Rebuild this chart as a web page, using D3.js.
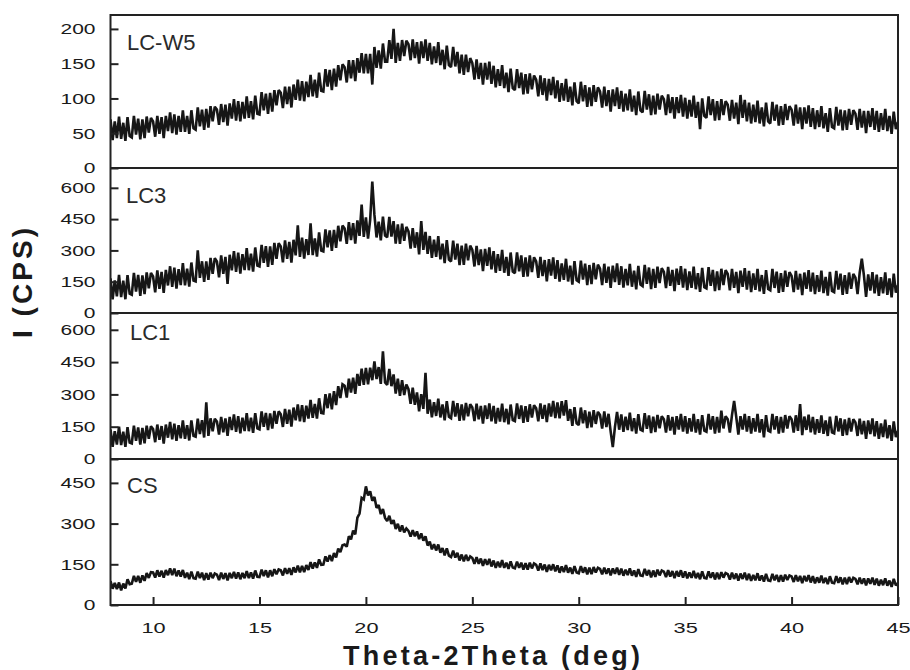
<!DOCTYPE html>
<html lang="en">
<head>
  <meta charset="UTF-8">
  <title>XRD patterns</title>
  <script src="https://d3js.org/d3.v7.min.js"></script>
  <style>
    body { margin: 0; background: #fff; font-family: "Liberation Sans", Arial, sans-serif; }
    svg { display: block; }
    .tick text { fill: #1a1a1a; font-size: 15px; }
    .tick line { stroke: #222; stroke-width: 2px; }
    .trace { fill: none; stroke: #161616; stroke-width: 2.6px; stroke-linejoin: miter; stroke-miterlimit: 2; }
  </style>
</head>
<body>
  <svg width="910" height="670"></svg>

  <script>
    // scan grid, 2theta 8..45 deg, 0.1 deg step (one row below = one degree)
    const twoTheta = d3.range(371).map(i => 8 + i * 0.1);

    const sampleNames = ["LC-W5", "LC3", "LC1", "CS"];

    const lcw5 = [
      70, 40, 67, 43, 74, 42, 65, 39, 73, 46,
      44, 75, 48, 71, 41, 70, 43, 74, 51, 72,
      67, 45, 75, 49, 73, 43, 75, 53, 80, 50,
      77, 48, 75, 52, 83, 52, 75, 49, 83, 57,
      55, 87, 60, 84, 55, 85, 58, 89, 67, 88,
      84, 62, 92, 66, 91, 61, 93, 71, 99, 68,
      96, 67, 95, 71, 103, 72, 96, 70, 104, 78,
      77, 109, 83, 107, 78, 108, 81, 112, 90, 112,
      108, 86, 117, 92, 117, 87, 120, 98, 127, 97,
      125, 96, 124, 102, 134, 103, 127, 101, 137, 111,
      110, 142, 117, 141, 112, 143, 117, 148, 126, 149,
      145, 123, 155, 129, 155, 125, 158, 137, 165, 136,
      164, 136, 164, 120, 174, 144, 169, 143, 179, 153,
      153, 184, 157, 200, 151, 180, 154, 184, 161, 183,
      178, 155, 185, 158, 181, 150, 182, 158, 185, 154,
      180, 149, 175, 151, 181, 148, 170, 142, 176, 148,
      145, 174, 146, 167, 136, 163, 134, 163, 138, 158,
      151, 127, 156, 128, 151, 120, 151, 127, 153, 121,
      147, 116, 142, 118, 148, 115, 137, 109, 143, 115,
      112, 142, 115, 137, 106, 135, 107, 136, 113, 133,
      127, 103, 133, 105, 129, 97, 128, 105, 131, 100,
      126, 95, 122, 97, 128, 95, 117, 90, 123, 96,
      93, 124, 96, 119, 88, 116, 89, 119, 95, 116,
      110, 87, 117, 89, 112, 81, 113, 89, 116, 85,
      111, 81, 107, 83, 113, 81, 104, 76, 110, 83,
      80, 111, 84, 106, 76, 104, 77, 107, 84, 104,
      99, 76, 106, 79, 102, 71, 102, 79, 105, 74,
      101, 71, 98, 74, 104, 72, 95, 56, 100, 75,
      72, 103, 76, 99, 68, 96, 69, 99, 76, 96,
      91, 68, 98, 71, 94, 63, 105, 72, 98, 67,
      94, 64, 91, 66, 97, 64, 87, 60, 94, 67,
      64, 95, 68, 91, 61, 89, 62, 92, 69, 89,
      84, 61, 91, 64, 87, 56, 87, 64, 90, 59,
      86, 56, 83, 59, 89, 57, 79, 52, 86, 59,
      57, 88, 61, 84, 54, 83, 55, 85, 62, 83,
      78, 55, 85, 58, 82, 50, 82, 59, 86, 55,
      82, 52, 79, 55, 85, 53, 75, 49, 81, 56,
      66
    ];

    const lc3 = [
      166, 65, 156, 80, 183, 76, 155, 66, 182, 93,
      88, 192, 103, 183, 82, 180, 91, 195, 118, 192,
      175, 99, 204, 116, 197, 97, 207, 132, 224, 125,
      217, 117, 210, 134, 239, 133, 213, 126, 242, 155,
      151, 300, 168, 248, 149, 247, 159, 264, 188, 263,
      247, 171, 276, 188, 269, 140, 279, 204, 296, 197,
      289, 189, 282, 206, 311, 205, 285, 198, 314, 227,
      223, 327, 240, 320, 221, 319, 231, 336, 260, 335,
      319, 243, 348, 260, 341, 241, 351, 276, 420, 269,
      361, 261, 354, 278, 430, 277, 357, 270, 386, 299,
      295, 401, 315, 396, 298, 398, 312, 418, 343, 419,
      405, 331, 436, 350, 431, 333, 444, 370, 520, 365,
      458, 356, 446, 630, 470, 362, 438, 348, 462, 371,
      363, 461, 366, 440, 333, 425, 331, 428, 346, 413,
      391, 309, 407, 313, 387, 281, 440, 303, 389, 283,
      369, 264, 351, 269, 368, 257, 332, 239, 349, 256,
      247, 347, 256, 332, 229, 323, 231, 332, 252, 323,
      303, 223, 322, 230, 305, 201, 307, 226, 314, 209,
      297, 193, 282, 202, 303, 193, 269, 178, 290, 199,
      191, 291, 200, 276, 173, 267, 175, 276, 196, 267,
      247, 168, 269, 177, 254, 151, 258, 179, 267, 164,
      253, 150, 238, 159, 260, 151, 227, 136, 249, 157,
      150, 251, 160, 237, 134, 230, 139, 240, 161, 232,
      213, 134, 236, 145, 222, 120, 227, 148, 238, 135,
      224, 122, 211, 133, 235, 126, 203, 113, 226, 136,
      129, 231, 140, 218, 115, 211, 120, 222, 144, 215,
      197, 119, 221, 130, 207, 105, 213, 135, 225, 122,
      212, 110, 199, 121, 222, 114, 191, 101, 216, 124,
      118, 220, 130, 207, 105, 200, 110, 212, 134, 205,
      187, 109, 211, 121, 197, 95, 203, 125, 215, 112,
      202, 100, 190, 111, 212, 104, 182, 92, 206, 115,
      109, 211, 120, 198, 96, 191, 101, 203, 125, 196,
      178, 100, 202, 112, 188, 86, 194, 116, 205, 103,
      193, 91, 181, 102, 203, 95, 173, 83, 197, 106,
      100, 202, 112, 189, 87, 182, 92, 194, 116, 187,
      169, 91, 193, 260, 179, 77, 185, 107, 196, 94,
      184, 82, 172, 94, 195, 87, 166, 75, 189, 98,
      134
    ];

    const lc1 = [
      137, 57, 129, 67, 150, 65, 127, 56, 148, 76,
      72, 155, 84, 147, 67, 144, 73, 155, 94, 152,
      139, 78, 160, 89, 153, 72, 160, 99, 172, 91,
      164, 84, 157, 96, 179, 94, 157, 86, 179, 108,
      104, 187, 116, 180, 100, 263, 107, 189, 129, 187,
      174, 113, 195, 124, 188, 108, 195, 134, 207, 126,
      199, 119, 192, 130, 213, 129, 192, 121, 213, 142,
      138, 221, 150, 214, 134, 212, 141, 223, 163, 221,
      208, 149, 233, 163, 229, 150, 239, 180, 254, 175,
      250, 172, 248, 188, 274, 191, 256, 188, 282, 214,
      212, 301, 236, 305, 231, 315, 250, 338, 283, 347,
      340, 285, 373, 308, 378, 303, 395, 340, 419, 344,
      423, 347, 424, 366, 453, 371, 427, 349, 500, 355,
      344, 418, 338, 393, 304, 373, 293, 366, 297, 346,
      324, 256, 331, 252, 309, 221, 301, 233, 400, 210,
      276, 194, 264, 200, 280, 193, 253, 180, 269, 196,
      189, 270, 197, 259, 177, 253, 180, 260, 198, 254,
      239, 176, 257, 184, 246, 164, 249, 186, 258, 175,
      246, 165, 237, 174, 257, 171, 233, 161, 253, 181,
      176, 258, 186, 249, 168, 245, 173, 254, 193, 250,
      236, 175, 258, 187, 251, 171, 258, 197, 270, 190,
      263, 189, 269, 202, 273, 177, 232, 154, 241, 166,
      158, 239, 166, 226, 144, 220, 147, 227, 163, 219,
      204, 141, 221, 148, 210, 127, 55, 148, 219, 136,
      207, 126, 197, 134, 215, 129, 190, 118, 208, 136,
      131, 213, 140, 202, 120, 197, 125, 205, 143, 199,
      185, 123, 204, 132, 195, 113, 199, 137, 209, 127,
      199, 118, 190, 127, 209, 123, 185, 113, 204, 132,
      127, 209, 137, 199, 118, 195, 123, 225, 142, 199,
      185, 123, 204, 270, 195, 113, 199, 137, 209, 127,
      199, 118, 190, 127, 209, 123, 185, 100, 204, 132,
      127, 209, 137, 199, 118, 195, 123, 204, 142, 199,
      185, 123, 203, 131, 255, 111, 197, 135, 206, 124,
      195, 114, 185, 122, 203, 117, 179, 107, 197, 124,
      119, 200, 128, 189, 107, 184, 111, 191, 128, 185,
      170, 107, 187, 115, 177, 94, 179, 116, 188, 105,
      176, 94, 165, 102, 183, 96, 157, 84, 175, 102,
      130
    ];

    const cs = [
      88, 60, 81, 59, 83, 54, 79, 61, 95, 77,
      79, 107, 85, 107, 82, 109, 89, 118, 100, 121,
      120, 101, 128, 105, 126, 101, 129, 110, 135, 110,
      134, 106, 127, 105, 129, 100, 119, 95, 123, 99,
      97, 123, 99, 119, 92, 117, 94, 119, 99, 116,
      112, 92, 119, 96, 117, 91, 118, 99, 122, 97,
      120, 95, 118, 99, 125, 99, 120, 97, 127, 104,
      103, 130, 107, 128, 102, 128, 106, 132, 113, 131,
      128, 109, 136, 115, 136, 111, 139, 120, 145, 120,
      144, 121, 147, 129, 158, 134, 157, 137, 168, 148,
      149, 179, 160, 184, 162, 191, 175, 208, 195, 220,
      223, 215, 253, 242, 274, 260, 322, 337, 395, 389,
      437, 404, 419, 384, 398, 358, 368, 335, 354, 321,
      309, 329, 299, 313, 280, 299, 271, 293, 268, 282,
      273, 252, 276, 253, 271, 243, 264, 237, 253, 219,
      234, 205, 224, 201, 223, 193, 210, 183, 209, 182,
      177, 200, 175, 192, 164, 186, 161, 185, 163, 179,
      173, 152, 176, 152, 171, 144, 169, 148, 170, 142,
      164, 137, 160, 139, 165, 137, 156, 133, 161, 138,
      135, 160, 137, 156, 130, 154, 130, 156, 135, 153,
      148, 127, 153, 129, 149, 122, 148, 128, 150, 124,
      146, 119, 142, 121, 147, 119, 138, 115, 143, 120,
      117, 143, 119, 139, 113, 138, 114, 140, 120, 137,
      133, 113, 138, 115, 135, 109, 135, 115, 138, 111,
      134, 108, 130, 110, 135, 108, 127, 104, 132, 109,
      107, 133, 109, 129, 102, 127, 104, 130, 109, 127,
      123, 103, 128, 105, 125, 99, 125, 105, 128, 101,
      124, 98, 120, 100, 126, 99, 118, 95, 124, 100,
      98, 124, 100, 120, 94, 119, 95, 121, 101, 118,
      114, 94, 119, 96, 116, 90, 116, 96, 119, 92,
      115, 89, 111, 91, 117, 90, 109, 86, 115, 91,
      89, 115, 91, 111, 85, 110, 86, 112, 92, 109,
      105, 85, 110, 87, 107, 81, 107, 87, 110, 83,
      106, 80, 102, 82, 108, 81, 100, 77, 106, 82,
      80, 106, 82, 102, 76, 101, 77, 103, 83, 100,
      96, 76, 101, 78, 98, 72, 98, 78, 101, 74,
      97, 71, 93, 73, 98, 71, 90, 67, 96, 72,
      81
    ];

    const series = [lcw5, lc3, lc1, cs];
    const yMax = [220, 695, 678, 538];
    const yTicks = [
      [0, 50, 100, 150, 200],
      [0, 150, 300, 450, 600],
      [0, 150, 300, 450, 600],
      [0, 150, 300, 450]
    ];
    const xTicks = [10, 15, 20, 25, 30, 35, 40, 45];

    const svg = d3.select("svg");
    const left = 110.5, right = 898;
    const panelTop = [15, 168, 313, 459];
    const panelBottom = [168, 313, 459, 605];
    const labelPos = [[127, 50], [126, 203], [130, 340], [127, 493]];

    const x = d3.scaleLinear().domain([8, 45]).range([left, right]);

    svg.append("clipPath").attr("id", "plotclip")
      .append("rect").attr("x", left).attr("y", 15)
      .attr("width", right - left).attr("height", 605 - 15);

    series.forEach((vals, i) => {
      const y = d3.scaleLinear().domain([0, yMax[i]]).range([panelBottom[i], panelTop[i]]);

      const line = d3.line()
        .x((d, j) => x(twoTheta[j]))
        .y(d => y(d));

      svg.append("path")
        .datum(vals)
        .attr("class", "trace")
        .attr("clip-path", "url(#plotclip)")
        .attr("d", line);

      const ax = svg.append("g")
        .attr("transform", `translate(${left},0)`)
        .call(d3.axisLeft(y).tickValues(yTicks[i]).tickSize(-8).tickPadding(15));
      ax.select(".domain").remove();
      ax.selectAll("text")
        .attr("x", null)
        .attr("transform", "translate(-15,0) scale(1.4,1)");

      svg.append("text")
        .attr("x", labelPos[i][0])
        .attr("y", labelPos[i][1])
        .attr("font-size", 22)
        .attr("fill", "#2a2a2a")
        .text(sampleNames[i]);
    });

    // x axis on the bottom panel
    const xa = svg.append("g")
      .attr("transform", "translate(0,605)")
      .call(d3.axisBottom(x).tickValues(xTicks).tickSize(-8).tickPadding(17));
    xa.select(".domain").remove();
    xa.selectAll("text")
      .attr("y", null)
      .attr("transform", "translate(0,17) scale(1.45,1)");

    // frame and panel separators
    svg.append("rect")
      .attr("x", left).attr("y", 15)
      .attr("width", right - left).attr("height", 605 - 15)
      .attr("fill", "none").attr("stroke", "#222").attr("stroke-width", 2);
    panelBottom.slice(0, 3).forEach(b => {
      svg.append("line")
        .attr("x1", left).attr("x2", right)
        .attr("y1", b).attr("y2", b)
        .attr("stroke", "#222").attr("stroke-width", 2);
    });

    // axis titles
    svg.append("text")
      .attr("x", 343).attr("y", 665)
      .attr("font-size", 27).attr("font-weight", "bold").attr("fill", "#1a1a1a")
      .attr("textLength", 297).attr("lengthAdjust", "spacing")
      .text("Theta-2Theta  (deg)");

    svg.append("text")
      .attr("transform", "translate(32,338) rotate(-90)")
      .attr("font-size", 28).attr("font-weight", "bold").attr("fill", "#1a1a1a")
      .attr("textLength", 110).attr("lengthAdjust", "spacing")
      .text("I (CPS)");
  </script>
</body>
</html>
